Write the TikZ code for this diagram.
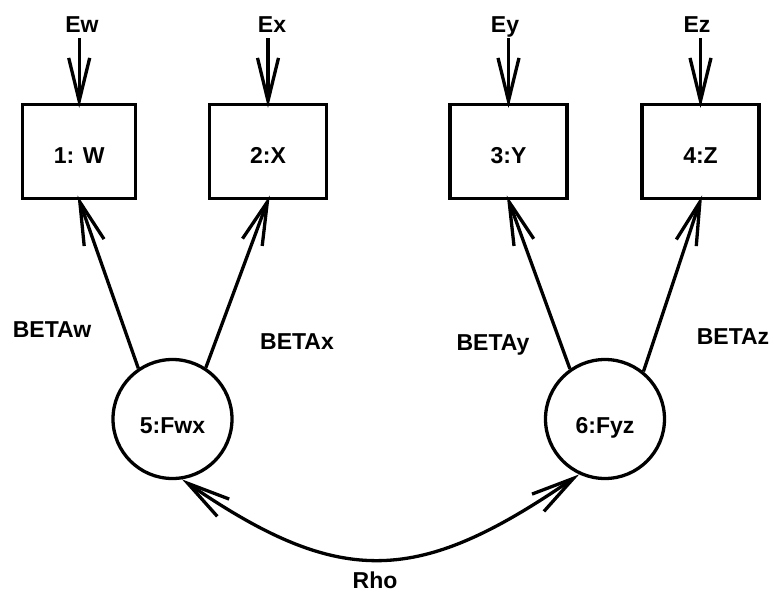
\documentclass[tikz,border=0pt]{standalone}
\usepackage{fontspec}
\setmainfont{Liberation Sans}
\usetikzlibrary{arrows.meta}
\begin{document}
\begin{tikzpicture}[x=1pt, y=-1pt,
  every node/.style={font=\fontsize{23}{27}\selectfont\bfseries},
  obsbox/.style={draw, line width=3.3pt, rectangle, minimum width=117pt,
    minimum height=94pt, inner sep=0pt, text height=23pt, text depth=0pt},
  latent/.style={draw, line width=3.3pt, circle, minimum size=119pt,
    inner sep=0pt, text height=28pt, text depth=0pt},
  lbl/.style={anchor=base, inner sep=0pt},
  arr/.style={line width=3.3pt, line join=miter,
    -{Straight Barb[length=43pt, width=21pt]}, shorten >=-5pt},
  biarr/.style={line width=3.3pt, line join=miter,
    {Straight Barb[length=43pt, width=21pt]}-{Straight Barb[length=43pt, width=21pt]}}]
  \useasboundingbox (0,0) rectangle (774,592);

  % observed variables
  \node[obsbox, minimum width=113pt] (b1) at (79.2,151.5) {1: W};
  \node[obsbox] (b2) at (268,151.5) {2:X};
  \node[obsbox] (b3) at (508.5,151.5) {3:Y};
  \node[obsbox] (b4) at (700.5,151.5) {4:Z};

  % latent factors
  \node[latent] (c5) at (172.5,419) {5:Fwx};
  \node[latent] (c6) at (605,419) {6:Fyz};

  % error terms
  \node[lbl] (ew) at (82,32) {Ew};
  \node[lbl] (ex) at (272,32) {Ex};
  \node[lbl] (ey) at (505,32) {Ey};
  \node[lbl] (ez) at (697,32) {Ez};

  % loadings and correlation labels
  \node[lbl] (bw) at (52,337) {BETAw};
  \node[lbl] (bx) at (297,349) {BETAx};
  \node[lbl] (by) at (493,350) {BETAy};
  \node[lbl] (bz) at (733,344) {BETAz};
  \node[lbl] (rho) at (375,588) {Rho};

  % error arrows
  \draw[arr] (b1.north |- 0,38) -- (b1.north);
  \draw[arr] (b2.north |- 0,38) -- (b2.north);
  \draw[arr] (b3.north |- 0,38) -- (b3.north);
  \draw[arr] (b4.north |- 0,38) -- (b4.north);

  % factor loadings
  \draw[arr] (c5.124) -- (b1.south);
  \draw[arr] (c5.57) -- (b2.south);
  \draw[arr] (c6.125) -- (b3.south);
  \draw[arr] (c6.51) -- (b4.south);

  % factor correlation
  \draw[biarr] (c5.-81) .. controls +(160,110) and +(-160,110) .. (c6.-115);
\end{tikzpicture}
\end{document}
